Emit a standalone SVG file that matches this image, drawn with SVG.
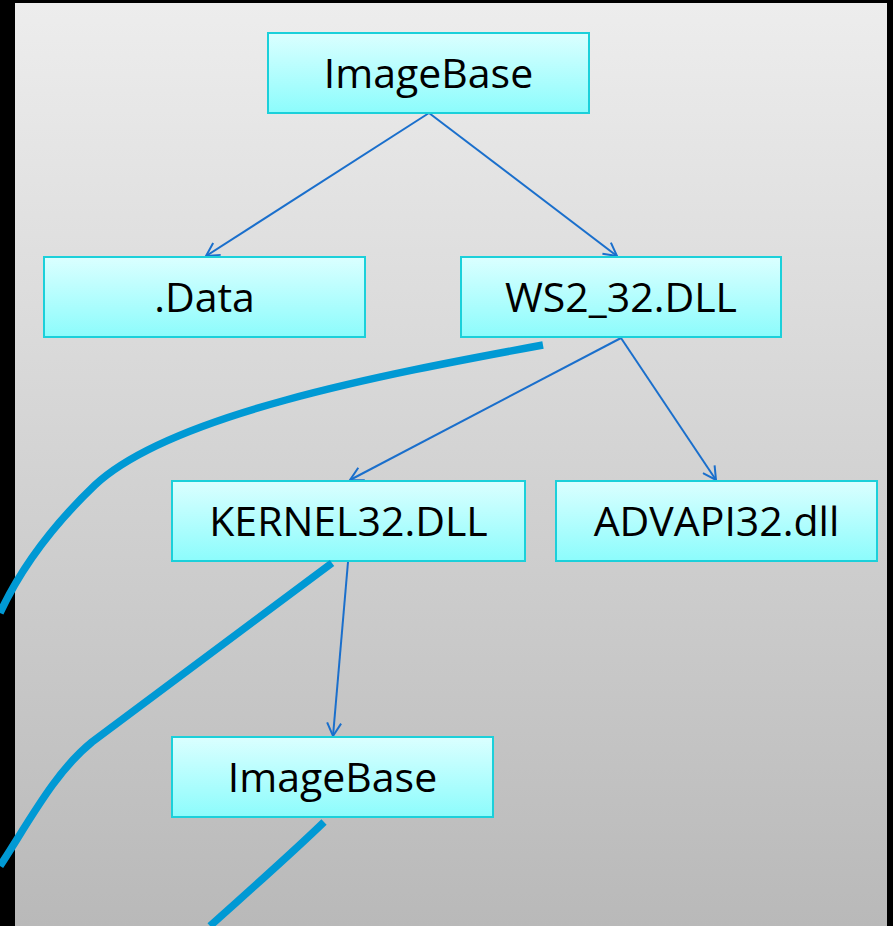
<svg xmlns="http://www.w3.org/2000/svg" width="893" height="926" viewBox="0 0 893 926">
<defs>
<linearGradient id="bg" x1="0" y1="0" x2="0" y2="1">
<stop offset="0" stop-color="#ededed"/>
<stop offset="1" stop-color="#b9b9b9"/>
</linearGradient>
<linearGradient id="box" x1="0" y1="0" x2="0" y2="1">
<stop offset="0" stop-color="#dbffff"/>
<stop offset="1" stop-color="#8cfcfc"/>
</linearGradient>
<marker id="arr" viewBox="0 0 16 16" refX="14" refY="8" markerWidth="16" markerHeight="16" markerUnits="userSpaceOnUse" orient="auto">
<path d="M1,1 L14,8 L1,15" fill="none" stroke="#1a6fcc" stroke-width="2"/>
</marker>
<style>
.node rect{fill:url(#box);stroke:#1bd0da;stroke-width:2}
.node text{font-family:"Open Sans",Lato,sans-serif;font-size:41px;fill:#000;text-anchor:middle;dominant-baseline:central}
.conn{fill:none;stroke:#1a6fcc;stroke-width:2;marker-end:url(#arr)}
.thick{fill:none;stroke:#0099d4;stroke-width:7.5}
</style>
</defs>
<rect x="0" y="0" width="893" height="926" fill="#000"/>
<rect x="15" y="3" width="872" height="923" fill="url(#bg)"/>
<g id="connectors">
<line class="conn" x1="429" y1="113" x2="206" y2="256"/>
<line class="conn" x1="429" y1="113" x2="617" y2="256"/>
<line class="conn" x1="621" y1="338" x2="350" y2="480"/>
<line class="conn" x1="621" y1="338" x2="716" y2="480"/>
<line class="conn" x1="348" y1="562" x2="333" y2="736"/>
</g>
<g id="node-imagebase-top" class="node"><rect x="268" y="33" width="321" height="80"/><text x="428.5" y="72">ImageBase</text></g>
<g id="node-data" class="node"><rect x="44" y="257" width="321" height="80"/><text x="204.5" y="296">.Data</text></g>
<g id="node-ws2" class="node"><rect x="461" y="257" width="320" height="80"/><text x="621" y="296">WS2_32.DLL</text></g>
<g id="node-kernel32" class="node"><rect x="172" y="481" width="353" height="80"/><text x="348.5" y="520">KERNEL32.DLL</text></g>
<g id="node-advapi32" class="node"><rect x="556" y="481" width="321" height="80"/><text x="716.5" y="520">ADVAPI32.dll</text></g>
<g id="node-imagebase-bottom" class="node"><rect x="172" y="737" width="321" height="80"/><text x="332.5" y="776">ImageBase</text></g>
<g id="thick-lines">
<path class="thick" d="M543,345 C 380,375 170,415 95,485 C 50,528 20,570 0,613"/>
<path class="thick" d="M332,563 L 92,742 C 55,772 30,820 0,866"/>
<path class="thick" d="M324,822 C 290,855 250,890 210,926"/>
</g>
</svg>
